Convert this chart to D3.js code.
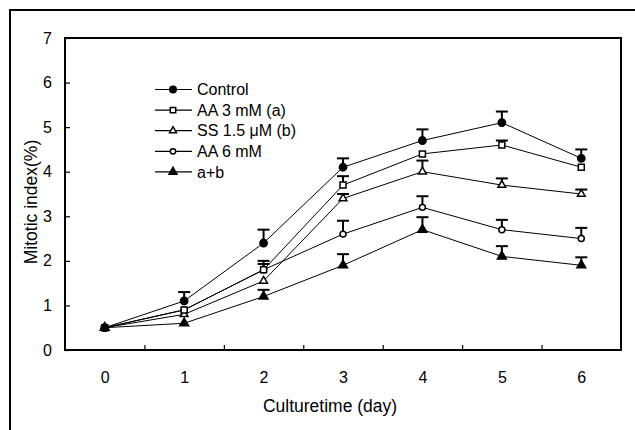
<!DOCTYPE html>
<html>
<head>
<meta charset="utf-8">
<script src="https://cdn.jsdelivr.net/npm/d3@7"></script>
<style>
	body { margin: 0; background: #fff; }
	svg { display: block; font-family: "Liberation Sans", Arial, sans-serif; }
</style>
</head>
<body>
<svg id="chart" width="635" height="430"></svg>
<script>
'use strict';

// chart data
const days = [0, 1, 2, 3, 4, 5, 6];
const y_ticks = [0, 1, 2, 3, 4, 5, 6, 7];
const series_names = ["Control", "AA 3 mM (a)", "SS 1.5 μM (b)", "AA 6 mM", "a+b"];
const control = [0.5, 1.1, 2.4, 4.1, 4.7, 5.1, 4.3];
const control_err = [0, 0.2, 0.3, 0.2, 0.25, 0.25, 0.2];
const aa3 = [0.5, 0.9, 1.8, 3.7, 4.4, 4.6, 4.1];
const aa3_err = [0, 0, 0.2, 0.2, 0, 0.1, 0];
const ss = [0.5, 0.8, 1.55, 3.4, 4.0, 3.7, 3.5];
const ss_err = [0, 0, 0, 0.1, 0.25, 0.15, 0.1];
const aa6 = [0.5, 0.9, 1.8, 2.6, 3.2, 2.7, 2.5];
const aa6_err = [0, 0, 0.13, 0.3, 0.25, 0.22, 0.24];
const ab = [0.5, 0.6, 1.2, 1.9, 2.7, 2.1, 1.9];
const ab_err = [0, 0, 0.15, 0.25, 0.28, 0.23, 0.18];

const PLOT = { left: 65, top: 38, right: 621, bottom: 350 };
const TICK_FONT = "16px";
const TITLE_FONT = "17.5px";

// marker styles per series
const markers = [
	{ type: d3.symbolCircle, size: 42, fill: "#000" },
	{ type: d3.symbolSquare, size: 36, fill: "#fff" },
	{ type: d3.symbolTriangle, size: 26, fill: "#fff" },
	{ type: d3.symbolCircle, size: 28, fill: "#fff" },
	{ type: d3.symbolTriangle, size: 34, fill: "#000" },
];

const series = [control, aa3, ss, aa6, ab].map((vals, i) => ({
	name: series_names[i],
	values: vals,
	err: [control_err, aa3_err, ss_err, aa6_err, ab_err][i],
	marker: markers[i],
}));

const svg = d3.select("#chart");

// outer frame (only top and left visible in the picture)
svg.append("rect")
	.attr("x", 10).attr("y", 10)
	.attr("width", 800).attr("height", 600)
	.attr("fill", "none").attr("stroke", "#000").attr("stroke-width", 2);

const x = d3.scaleLinear().domain([-0.5, 6.5]).range([PLOT.left, PLOT.right]);
const y = d3.scaleLinear().domain([0, 7]).range([PLOT.bottom, PLOT.top]);

// plot box
svg.append("rect")
	.attr("x", PLOT.left).attr("y", PLOT.top)
	.attr("width", PLOT.right - PLOT.left).attr("height", PLOT.bottom - PLOT.top)
	.attr("fill", "none").attr("stroke", "#000").attr("stroke-width", 2);

// x tick marks between categories
svg.append("g")
	.attr("transform", `translate(0,${PLOT.bottom})`)
	.call(d3.axisBottom(x).tickValues(days.slice(0, -1).map(d => d + 0.5)).tickSizeInner(-5).tickSizeOuter(0).tickFormat(""))
	.call(g => g.select(".domain").remove())
	.call(g => g.selectAll("line").attr("stroke-width", 1.2));

// x labels
svg.append("g")
	.attr("transform", `translate(0,${PLOT.bottom})`)
	.call(d3.axisBottom(x).tickValues(days).tickSize(0).tickPadding(22).tickFormat(d3.format("d")))
	.call(g => g.select(".domain").remove())
	.call(g => g.selectAll("text").attr("font-size", TICK_FONT).attr("font-family", null).attr("fill", "#000"));

// y axis
svg.append("g")
	.attr("transform", `translate(${PLOT.left},0)`)
	.call(d3.axisLeft(y).tickValues(y_ticks).tickSizeInner(-5).tickSizeOuter(0).tickPadding(13).tickFormat(d3.format("d")))
	.call(g => g.select(".domain").remove())
	.call(g => g.selectAll("line").attr("stroke-width", 1.2))
	.call(g => g.selectAll("text").attr("font-size", TICK_FONT).attr("font-family", null).attr("fill", "#000"));

// axis titles
svg.append("text")
	.attr("x", 330).attr("y", 412)
	.attr("text-anchor", "middle")
	.attr("font-size", TITLE_FONT)
	.text("Culturetime (day)");

svg.append("text")
	.attr("transform", "translate(37,202) rotate(-90)")
	.attr("text-anchor", "middle")
	.attr("font-size", TITLE_FONT)
	.text("Mitotic index(%)");

const line = d3.line()
	.x((d, i) => x(days[i]))
	.y(d => y(d));

const gLines = svg.append("g").attr("fill", "none").attr("stroke", "#000").attr("stroke-width", 1);
const gErr = svg.append("g").attr("stroke", "#000").attr("stroke-width", 2);
const gMark = svg.append("g");

// draw back to front so Control ends up on top
series.slice().reverse().forEach(s => {
	gLines.append("path").attr("d", line(s.values));

	s.values.forEach((v, i) => {
		const e = s.err[i];
		if (!e) return;
		const cx = x(days[i]);
		gErr.append("line")
			.attr("x1", cx).attr("x2", cx)
			.attr("y1", y(v)).attr("y2", y(v + e));
		gErr.append("line")
			.attr("x1", cx - 6).attr("x2", cx + 6)
			.attr("y1", y(v + e)).attr("y2", y(v + e));
	});

	const sym = d3.symbol().type(s.marker.type).size(s.marker.size);
	gMark.selectAll(null)
		.data(s.values)
		.enter().append("path")
			.attr("d", sym)
			.attr("transform", (d, i) => `translate(${x(days[i])},${y(d)})`)
			.attr("fill", s.marker.fill)
			.attr("stroke", "#000")
			.attr("stroke-width", 1.5);
});

// legend
const legend = svg.append("g").attr("transform", "translate(155,89.5)");
series.forEach((s, i) => {
	const row = legend.append("g").attr("transform", `translate(0,${i * 20.6})`);
	row.append("line")
		.attr("x1", 0).attr("x2", 37)
		.attr("y1", 0).attr("y2", 0)
		.attr("stroke", "#000").attr("stroke-width", 1.2);
	row.append("path")
		.attr("d", d3.symbol().type(s.marker.type).size(s.marker.size * 0.8)())
		.attr("transform", "translate(18,0)")
		.attr("fill", s.marker.fill)
		.attr("stroke", "#000")
		.attr("stroke-width", 1.5);
	row.append("text")
		.attr("x", 42).attr("y", 0)
		.attr("dy", "0.36em")
		.attr("font-size", TICK_FONT)
		.text(s.name);
});
</script>
</body>
</html>
